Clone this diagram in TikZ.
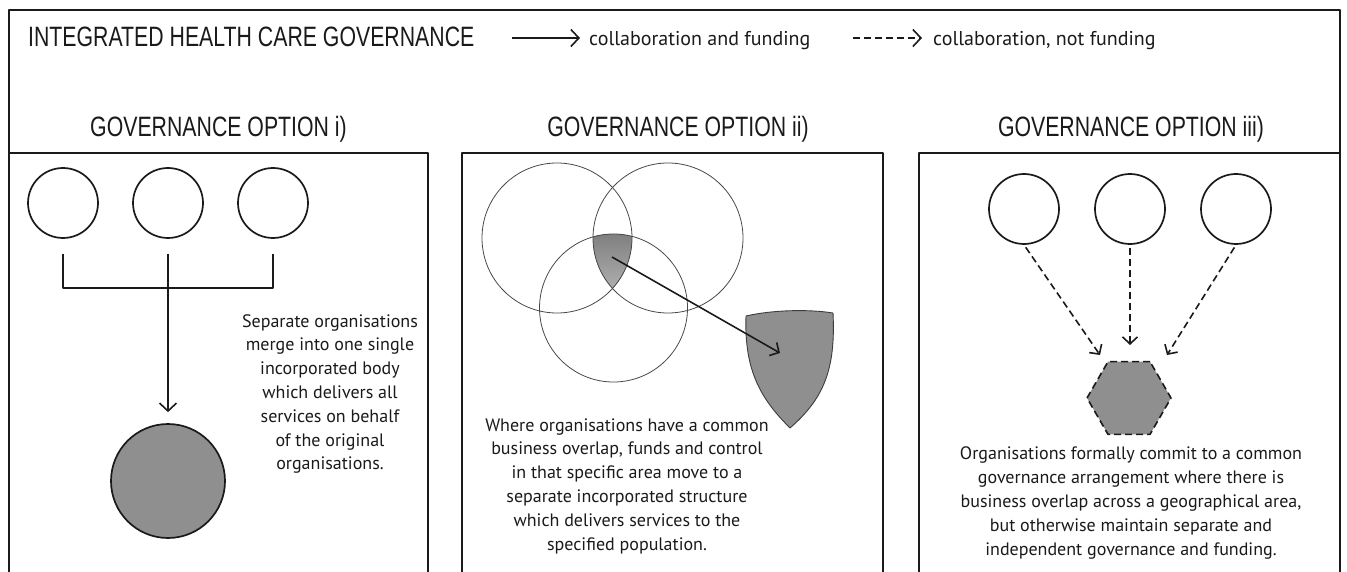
\documentclass[tikz,border=0pt]{standalone}
\usepackage{fontspec}
\setmainfont{PT Sans}
\newfontfamily\headfont[FakeStretch=0.76]{Liberation Sans}
\usetikzlibrary{arrows.meta,shapes.geometric}
\definecolor{shade}{HTML}{8F8F8F}
\definecolor{ink}{HTML}{1A1A1A}
\tikzset{
  frame/.style={line width=2.4pt, draw=ink},
  panel/.style={line width=1.8pt, draw=ink},
  org/.style={circle, draw=ink, line width=1.7pt, minimum size=70pt, inner sep=0pt},
  bigorg/.style={circle, draw=ink, fill=shade, line width=1.7pt, minimum size=114pt, inner sep=0pt},
  venn/.style={circle, draw=ink!80, line width=0.8pt, minimum size=150pt, inner sep=0pt},
  link/.style={draw=ink, line width=1.6pt, -{Straight Barb[length=8pt, width=17pt, line width=1.6pt]}},
  dlink/.style={link, dash pattern=on 7pt off 4pt},
  body/.style={align=center, inner sep=0pt, font=\fontsize{18}{23.8}\selectfont, text=ink},
  legend/.style={inner sep=0pt, font=\fontsize{20}{24}\selectfont, text=ink},
  head/.style={inner sep=0pt, font=\headfont\fontsize{28}{30}\selectfont, text=ink},
}
\begin{document}
\begin{tikzpicture}[x=1pt, y=-1pt, line join=round]
\useasboundingbox (0,0) rectangle (1347,572);
% outer frame
\draw[frame] (9,572) -- (9,10) -- (1340,10) -- (1340,572);
% title and legend
\node[head, anchor=base west] (title) at (28,47) {INTEGRATED HEALTH CARE GOVERNANCE};
\coordinate (ls1) at (512,38);
\coordinate (le1) at (580,38);
\draw[link] (ls1) -- (le1);
\node[legend, anchor=base west] (lt1) at (589,46) {collaboration and funding};
\coordinate (ls2) at (853,38);
\coordinate (le2) at (922,38);
\draw[dlink] (ls2) -- (le2);
\node[legend, anchor=base west] (lt2) at (933,46) {collaboration, not funding};
% headings
\node[head, anchor=base] (h1) at (218.5,137) {GOVERNANCE OPTION i)};
\node[head, anchor=base] (h2) at (678,137) {GOVERNANCE OPTION ii)};
\node[head, anchor=base] (h3) at (1131,137) {GOVERNANCE OPTION iii)};
% panels
\draw[panel] (9,572) -- (9,153) -- (428,153) -- (428,572);
\draw[panel] (462,572) -- (462,153) -- (883,153) -- (883,572);
\draw[panel] (919,572) -- (919,153) -- (1340,153) -- (1340,572);

% ---------- panel i
\node[org] (a1) at (63,203) {};
\node[org] (a2) at (168,203) {};
\node[org] (a3) at (273,203) {};
\coordinate (k1) at (63,254);
\coordinate (k2) at (168,254);
\coordinate (k3) at (273,254);
\coordinate (kj) at (168,288);
\draw[draw=ink, line width=1.6pt] (k1) |- (kj) -| (k3);
\node[bigorg] (big) at (168,481) {};
\draw[link, shorten >=11pt] (k2) -- (big);
\node[body] (t1) at (330,394) {Separate organisations\\merge into one single\\incorporated body\\which delivers all\\services on behalf\\of the original\\organisations.};

% ---------- panel ii
\begin{scope}
  \clip (557,238) circle[radius=75pt];
  \clip (668,238) circle[radius=75pt];
  \fill[shade] (613.5,308) circle[radius=74pt];
\end{scope}
\node[venn] (va) at (557,238) {};
\node[venn] (vb) at (668,238) {};
\node[venn, minimum size=148pt] (vc) at (613.5,308) {};
\coordinate (core) at (612,257);
\draw[draw=ink!85, fill=shade, line width=0.9pt]
  (746,316) .. controls (772,310) and (808,309) .. (833,313)
  .. controls (836,372) and (822,400) .. (790,428)
  .. controls (762,400) and (744,372) .. (746,316) -- cycle;
\coordinate (shield) at (780,353);
\draw[link, -{Straight Barb[length=7pt, width=15pt, line width=1.6pt]}] (core) -- (shield);
\node[body] (t2) at (627,486) {Where organisations have a common\\business overlap, funds and control\\in that specific area move to a\\separate incorporated structure\\which delivers services to the\\specified population.};

% ---------- panel iii
\node[org] (c1) at (1024,209) {};
\node[org] (c2) at (1130,209) {};
\node[org] (c3) at (1236,209) {};
\node[regular polygon, regular polygon sides=6, minimum size=84pt, inner sep=0pt,
      draw=ink, fill=shade, line width=1.6pt, dash pattern=on 7pt off 4pt] (hx) at (1129,398) {};
\coordinate (d1) at (1100,355);
\coordinate (d2) at (1130,345);
\coordinate (d3) at (1167,355);
\draw[dlink, shorten <=3pt, -{Straight Barb[length=7pt, width=15pt, line width=1.6pt]}] (c1.south) -- (d1);
\draw[dlink, shorten <=3pt, -{Straight Barb[length=7pt, width=15pt, line width=1.6pt]}] (c2.south) -- (d2);
\draw[dlink, shorten <=3pt, -{Straight Barb[length=7pt, width=15pt, line width=1.6pt]}] (c3.south) -- (d3);
\node[body] (t3) at (1131,503) {Organisations formally commit to a common\\governance arrangement where there is\\business overlap across a geographical area,\\but otherwise maintain separate and\\independent governance and funding.};
\end{tikzpicture}
\end{document}
